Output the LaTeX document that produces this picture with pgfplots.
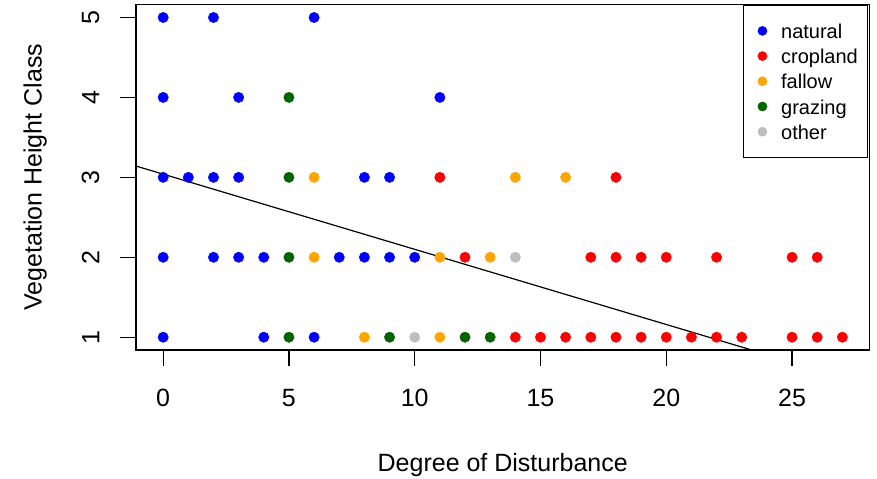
\documentclass[border=0pt]{standalone}
\usepackage{pgfplots}
\pgfplotsset{compat=1.18}
\usepackage{fontspec}
\setmainfont{Liberation Sans}
\definecolor{cnatural}{RGB}{0,0,255}
\definecolor{ccrop}{RGB}{255,0,0}
\definecolor{cfallow}{RGB}{255,165,0}
\definecolor{cgraze}{RGB}{0,100,0}
\definecolor{cother}{RGB}{190,190,190}
\begin{document}
\begin{tikzpicture}
\path[use as bounding box] (-136bp,-129bp) rectangle (741bp,350bp);
\begin{axis}[
  at={(0,0)}, anchor=south west,
  scale only axis, width=733.5bp, height=345.3bp,
  xmin=-1.08, xmax=28.08, ymin=0.84, ymax=5.16,
  xtick={0,5,10,15,20,25}, ytick={1,2,3,4,5},
  tick pos=left, tick align=outside, major tick length=15.5bp,
  axis line style={line width=1.2bp},
  every tick/.style={black, line width=1.2bp},
  /pgf/number format/assume math mode=true,
  ticklabel style={font=\fontsize{25bp}{30bp}\selectfont},
  xticklabel style={anchor=north, inner sep=0pt},
  xticklabel shift=23.5bp,
  yticklabel style={rotate=90, anchor=south, inner sep=0pt},
  yticklabel shift=21bp,
  every axis x label/.style={at={(axis description cs:0.5,0)}, anchor=base, inner sep=0pt, yshift=-121.7bp, font=\fontsize{25bp}{30bp}\selectfont},
  every axis y label/.style={at={(axis description cs:-0.12856,0.5)}, rotate=90, anchor=base, inner sep=0pt, font=\fontsize{25bp}{30bp}\selectfont},
  xlabel={Degree of Disturbance},
  ylabel={Vegetation Height Class},
  legend cell align=left,
  legend style={at={(axis description cs:0.998,1)}, anchor=north east, draw=black, line width=1.2bp, fill=white,
    inner xsep=0pt, inner ysep=13bp, row sep=0pt, column sep=0pt,
    font=\fontsize{20bp}{24bp}\selectfont,
    nodes={inner xsep=0pt, inner ysep=3.6bp, text height=16.7bp, text depth=1.3bp, text width=86.3bp}},
  legend image code/.code={\path[draw=none, fill=none] (-19bp,-4.6bp) rectangle (18.7bp,4.6bp);
    \draw[#1, mark size=4.6bp, line width=0.4pt] plot coordinates {(0bp,0bp)};},
]
\addplot[only marks, mark=*, mark size=5.2bp, color=cnatural] coordinates {
(0,5)(2,5)(6,5)(0,4)(3,4)(11,4)(0,3)(1,3)(2,3)(3,3)(8,3)(9,3)
(0,2)(2,2)(3,2)(4,2)(7,2)(8,2)(9,2)(10,2)(0,1)(4,1)(6,1)};
\addlegendentry{natural}
\addplot[only marks, mark=*, mark size=5.2bp, color=ccrop] coordinates {
(11,3)(18,3)(12,2)(17,2)(18,2)(19,2)(20,2)(22,2)(25,2)(26,2)
(14,1)(15,1)(16,1)(17,1)(18,1)(19,1)(20,1)(21,1)(22,1)(23,1)(25,1)(26,1)(27,1)};
\addlegendentry{cropland}
\addplot[only marks, mark=*, mark size=5.2bp, color=cfallow] coordinates {
(6,3)(14,3)(16,3)(6,2)(11,2)(13,2)(8,1)(11,1)};
\addlegendentry{fallow}
\addplot[only marks, mark=*, mark size=5.2bp, color=cgraze] coordinates {
(5,4)(5,3)(5,2)(5,1)(9,1)(12,1)(13,1)};
\addlegendentry{grazing}
\addplot[only marks, mark=*, mark size=5.2bp, color=cother] coordinates {
(14,2)(10,1)};
\addlegendentry{other}
\addplot[black, line width=1.2bp, forget plot] coordinates {(-2,3.228) (25,0.689)};
\end{axis}
\end{tikzpicture}
\end{document}
